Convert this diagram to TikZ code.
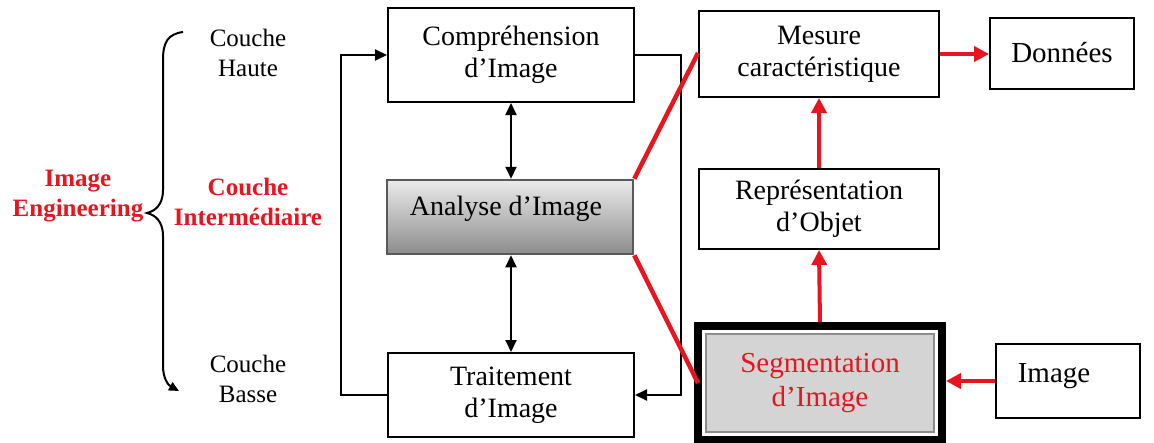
\documentclass[tikz,border=0pt]{standalone}
\usepackage{fontspec}
\setmainfont{Liberation Serif}
\usetikzlibrary{arrows.meta}
\definecolor{myred}{RGB}{232,20,30}
\begin{document}
\begin{tikzpicture}[x=1pt,y=-1pt,
  box/.style={draw=black, line width=2pt, fill=white, inner sep=0pt, align=center, font=\fontsize{28}{32}\selectfont},
  txt/.style={inner sep=0pt, align=center, font=\fontsize{28}{32}\selectfont},
  side/.style={inner sep=0pt, align=center, font=\fontsize{25}{30}\selectfont},
  sidered/.style={side, font=\fontsize{25}{30}\selectfont\bfseries, text=myred},
  blackarr/.style={draw=black, line width=2pt, -{Triangle[length=12pt,width=11pt]}},
  dblarr/.style={draw=black, line width=2pt, {Triangle[length=12pt,width=11pt]}-{Triangle[length=12pt,width=11pt]}},
  redarr/.style={draw=myred, line width=4pt, -{Triangle[length=15pt,width=15pt]}},
  redline/.style={draw=myred, line width=4.5pt}
]
\useasboundingbox (0,0) rectangle (1154,442);

% left labels
\node[sidered] (ie) at (78,196) {Image\\Engineering};
\node[side] (ch) at (248,53) {Couche\\Haute};
\node[sidered] (ci) at (248,202) {Couche\\Intermédiaire};
\node[side] (cb) at (248,379) {Couche\\Basse};
\draw[line width=2pt, -{Triangle[length=10pt,width=9pt]}]
  (183,32) .. controls (168,34) and (163,42) .. (163,60) -- (163,190)
  .. controls (163,205) and (155,211) .. (147,213)
  .. controls (155,215) and (163,221) .. (163,236) -- (163,366)
  .. controls (163,378) and (168,385) .. (179,391);

% middle column
\node[box, minimum width=246, minimum height=94] (comp) at (511,55) {Compréhension\\d’Image};
\node[draw=black!65, line width=2.5pt, top color=white!92!black, bottom color=black!45,
      minimum width=246, minimum height=74, inner sep=0pt] (ana) at (510,217) {};
\node[txt] (anat) at (506,209) {Analyse d’Image};
\node[box, minimum width=246, minimum height=84] (trait) at (511,395) {Traitement\\d’Image};

\draw[blackarr] (trait.west) -- ++(-46,0) |- (comp.west);
\draw[blackarr] (comp.east) -- ++(46,0) |- (trait.east);
\draw[dblarr] (comp.south) -- (ana.north -| comp.south);
\draw[dblarr] (ana.south -| trait.north) -- (trait.north);

% right column
\node[box, minimum width=240, minimum height=86] (mes) at (819,54) {Mesure\\caractéristique};
\node[box, minimum width=240, minimum height=80] (rep) at (819,209) {Représentation\\d’Objet};
\node[box, minimum width=144, minimum height=71, font=\fontsize{29}{33}\selectfont] (don) at (1062,53) {Données};
\node[draw=black, line width=8pt, fill=white, minimum width=244, minimum height=114, inner sep=0pt] (seg) at (820,383) {};
\node[draw=black!45, line width=1.5pt, fill=black!17, minimum width=228, minimum height=98, inner sep=0pt,
      align=center, text=myred, font=\fontsize{29}{34}\selectfont] (segin) at (820,383) {Segmentation\\d’Image};
\node[box, minimum width=144, minimum height=74] (img) at (1068,381) {};
\node[txt, font=\fontsize{29}{33}\selectfont] (imgt) at (1054,376) {Image};

\draw[redarr] (seg.north) -- (rep.south);
\draw[redarr] (rep.north) -- (mes.south);
\draw[redarr] (mes.east) -- (mes.east -| don.west);
\draw[redarr] (img.west) -- (img.west -| seg.east);
\draw[redline] (ana.north east) -- ([yshift=1pt]mes.west);
\draw[redline] (ana.south east) -- ([xshift=4pt]seg.west);
\end{tikzpicture}
\end{document}
